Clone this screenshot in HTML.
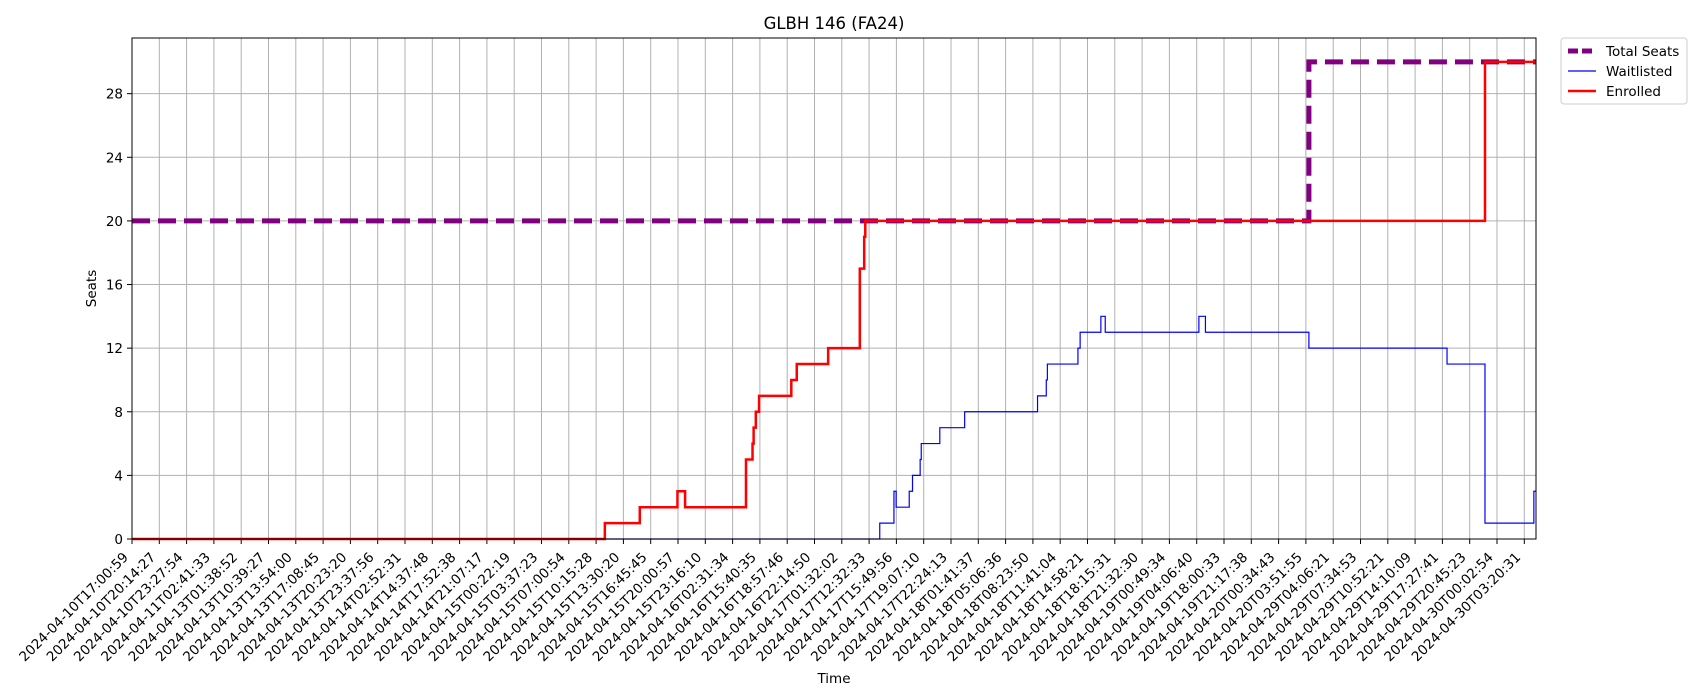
<!DOCTYPE html>
<html><head><meta charset="utf-8"><style>
body{margin:0;background:#fff;}
svg{display:block;font-family:"DejaVu Sans","Liberation Sans",sans-serif;}
</style></head><body>
<svg id="chart" width="1700" height="700" viewBox="0 0 1700 700"></svg>
<script>
const tickLabels=["2024-04-10T17:00:59","2024-04-10T20:14:27","2024-04-10T23:27:54","2024-04-11T02:41:33","2024-04-13T01:38:52","2024-04-13T10:39:27","2024-04-13T13:54:00","2024-04-13T17:08:45","2024-04-13T20:23:20","2024-04-13T23:37:56","2024-04-14T02:52:31","2024-04-14T14:37:48","2024-04-14T17:52:38","2024-04-14T21:07:17","2024-04-15T00:22:19","2024-04-15T03:37:23","2024-04-15T07:00:54","2024-04-15T10:15:28","2024-04-15T13:30:20","2024-04-15T16:45:45","2024-04-15T20:00:57","2024-04-15T23:16:10","2024-04-16T02:31:34","2024-04-16T15:40:35","2024-04-16T18:57:46","2024-04-16T22:14:50","2024-04-17T01:32:02","2024-04-17T12:32:33","2024-04-17T15:49:56","2024-04-17T19:07:10","2024-04-17T22:24:13","2024-04-18T01:41:37","2024-04-18T05:06:36","2024-04-18T08:23:50","2024-04-18T11:41:04","2024-04-18T14:58:21","2024-04-18T18:15:31","2024-04-18T21:32:30","2024-04-19T00:49:34","2024-04-19T04:06:40","2024-04-19T18:00:33","2024-04-19T21:17:38","2024-04-20T00:34:43","2024-04-20T03:51:55","2024-04-29T04:06:21","2024-04-29T07:34:53","2024-04-29T10:52:21","2024-04-29T14:10:09","2024-04-29T17:27:41","2024-04-29T20:45:23","2024-04-30T00:02:54","2024-04-30T03:20:31"];
const yTicks=[0,4,8,12,16,20,24,28];
// step series: positions in tick-index units, values in seats
const totalX=[0,43.11,51.43];
const totalY=[20,30,30];
const enrolledX=[0,17.32,18.6,19.98,20.26,22.49,22.73,22.77,22.85,22.97,24.15,24.35,25.5,26.66,26.82,26.86,26.94,49.56,51.43];
const enrolledY=[0,1,2,3,2,5,6,7,8,9,10,11,12,17,19,20,20,30,30];
const waitX=[0,27.39,27.91,27.99,28.47,28.59,28.87,28.91,29.59,30.5,33.17,33.49,33.53,34.65,34.73,35.49,35.65,39.08,39.32,43.11,48.17,49.56,51.35,51.43];
const waitY=[0,1,3,2,3,4,5,6,7,8,9,10,11,12,13,14,13,14,13,12,11,1,3,3];

const L=132,R=1536,T=38,B=539,XMAX=51.43,YMAX=31.5,STEP=27.3;
const sx=u=>L+u*STEP;
const sy=v=>B-(B-T)*v/YMAX;
const svg=document.getElementById('chart');
const NS='http://www.w3.org/2000/svg';
function mk(tag,attrs,parent){const e=document.createElementNS(NS,tag);for(const k in attrs)e.setAttribute(k,attrs[k]);(parent||svg).appendChild(e);return e;}

const grid=mk('g',{});


tickLabels.forEach((t,i)=>{
  const x=sx(i);
  mk('line',{x1:x,x2:x,y1:T,y2:B,stroke:'#b0b0b0','stroke-width':1},grid);
  mk('line',{x1:x,x2:x,y1:B,y2:B+5,stroke:'#000','stroke-width':1});
  const ax=x-3, ay=B+19;
  const tx=mk('text',{x:ax,y:ay,'font-size':13.5,'text-anchor':'end',transform:`rotate(-45 ${ax} ${ay})`});
  tx.textContent=t;
  
  
});
yTicks.forEach(v=>{
  const y=sy(v);
  mk('line',{x1:L,x2:R,y1:y,y2:y,stroke:'#b0b0b0','stroke-width':1},grid);
  mk('line',{x1:L-5,x2:L,y1:y,y2:y,stroke:'#000','stroke-width':1});
  const tx=mk('text',{x:L-9,y:y+5,'font-size':13.5,'text-anchor':'end'});
  tx.textContent=v;
  
  
});
function stepPath(xs,ys){let d=`M${sx(xs[0])},${sy(ys[0])}`;for(let i=1;i<xs.length;i++){d+=` H${sx(xs[i])} V${sy(ys[i])}`;}return d;}
const pt=mk('path',{d:stepPath(totalX,totalY),fill:'none',stroke:'#800080','stroke-width':5,'stroke-dasharray':'18,8'});


const pw=mk('path',{d:stepPath(waitX,waitY),fill:'none',stroke:'#0000ff','stroke-width':1.2});


const pe=mk('path',{d:stepPath(enrolledX,enrolledY),fill:'none',stroke:'#ff0000','stroke-width':2.5});


const fr=mk('rect',{x:L,y:T,width:R-L,height:B-T,fill:'none',stroke:'#000','stroke-width':1});


const title=mk('text',{x:(L+R)/2,y:29,'font-size':16.5,'text-anchor':'middle'});
title.textContent='GLBH 146 (FA24)';


const yl=mk('text',{x:96,y:(T+B)/2,'font-size':13.5,'text-anchor':'middle',transform:`rotate(-90 96 ${(T+B)/2})`});
yl.textContent='Seats';


const xl=mk('text',{x:(L+R)/2,y:683,'font-size':13.5,'text-anchor':'middle'});
xl.textContent='Time';


// legend
const lg=mk('g',{});


mk('rect',{x:1561,y:38,width:126,height:66,fill:'#fff',stroke:'#ccc',rx:3},lg);
const items=[['Total Seats','#800080',5,'10,4'],['Waitlisted','#0000ff',1.2,''],['Enrolled','#ff0000',2.5,'']];
items.forEach((it,i)=>{
  const y=51+i*20;
  mk('line',{x1:1568,x2:1596,y1:y,y2:y,stroke:it[1],'stroke-width':it[2],'stroke-dasharray':it[3]},lg);
  const t=mk('text',{x:1606,y:y+5,'font-size':13.5},lg);
  t.textContent=it[0];
  
  
});
</script>
</body></html>
